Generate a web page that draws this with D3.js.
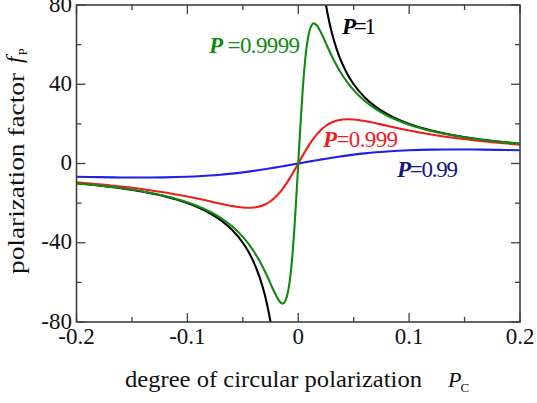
<!DOCTYPE html>
<html><head><meta charset="utf-8">
<script src="https://cdn.jsdelivr.net/npm/d3@7"></script>
<style>
html,body{margin:0;padding:0;background:#fff;overflow:hidden;}
svg text{font-family:"Liberation Serif","DejaVu Serif","Times New Roman",Times,serif;}
</style></head>
<body><svg id="c" width="537" height="403" font-family="Liberation Serif, DejaVu Serif, serif"></svg>
<script>
// ---- data ----
const pc = [-0.2,-0.18,-0.16,-0.14,-0.12,-0.1,-0.09,-0.08,-0.07,-0.06,-0.05,-0.045,-0.04,-0.035,-0.03,-0.025,-0.02,-0.017,-0.014,-0.012,-0.01,-0.008,-0.006,-0.004,-0.002,0,
  0.002,0.004,0.006,0.008,0.01,0.012,0.014,0.017,0.02,0.025,0.03,0.035,0.04,0.045,0.05,0.06,0.07,0.08,0.09,0.1,0.12,0.14,0.16,0.18,0.2];
const fP9999 = [-9.95,-11.04,-12.40,-14.14,-16.44,-19.61,-21.69,-24.24,-27.45,-31.58,-37.04,-40.45,-44.44,-49.12,-54.55,-60.61,-66.67,-69.53,-70.71,-69.77,-66.67,-60.61,-50.85,-37.04,-19.61,0,
  19.61,37.04,50.85,60.61,66.67,69.77,70.71,69.53,66.67,60.61,54.55,49.12,44.44,40.45,37.04,31.58,27.45,24.24,21.69,19.61,16.44,14.14,12.40,11.04,9.95];
const fP999 = [-9.52,-10.47,-11.59,-12.96,-14.63,-16.67,-17.82,-19.05,-20.29,-21.43,-22.22,-22.36,-22.22,-21.71,-20.69,-19.05,-16.67,-14.85,-12.75,-11.19,-9.52,-7.75,-5.89,-3.97,-2.00,0,
  2.00,3.97,5.89,7.75,9.52,11.19,12.75,14.85,16.67,19.05,20.69,21.71,22.22,22.36,22.22,21.43,20.29,19.05,17.82,16.67,14.63,12.96,11.59,10.47,9.52];
const fP99 = [-6.68,-6.88,-7.03,-7.09,-7.00,-6.69,-6.43,-6.08,-5.65,-5.11,-4.46,-4.10,-3.72,-3.31,-2.88,-2.44,-1.97,-1.68,-1.39,-1.20,-1.00,-0.80,-0.60,-0.40,-0.20,0,
  0.20,0.40,0.60,0.80,1.00,1.20,1.39,1.68,1.97,2.44,2.88,3.31,3.72,4.10,4.46,5.11,5.65,6.08,6.43,6.69,7.00,7.09,7.03,6.88,6.68];
const pcP1neg = [-0.2,-0.18,-0.16,-0.14,-0.12,-0.1,-0.09,-0.08,-0.07,-0.06,-0.05,-0.045,-0.04,-0.035,-0.03,-0.027,-0.025,-0.022];
const fP1neg  = [-10,-11.11,-12.5,-14.29,-16.67,-20,-22.22,-25,-28.57,-33.33,-40,-44.44,-50,-57.14,-66.67,-74.07,-80,-90.91];
const pcP1pos = [0.022,0.025,0.027,0.03,0.035,0.04,0.045,0.05,0.06,0.07,0.08,0.09,0.1,0.12,0.14,0.16,0.18,0.2];
const fP1pos  = [90.91,80,74.07,66.67,57.14,50,44.44,40,33.33,28.57,25,22.22,20,16.67,14.29,12.5,11.11,10];
const xTicks = [-0.2,-0.1,0,0.1,0.2];
const xTickLabels = ["-0.2","-0.1","0","0.1","0.2"];
const xMinor = [-0.15,-0.05,0.05,0.15];
const yTicks = [-80,-40,0,40,80];
const yTickLabels = ["-80","-40","0","40","80"];
const yMinor = [-60,-20,20,60];

// ---- layout ----
const FONT = "Liberation Serif, DejaVu Serif, Times New Roman, serif";
const L=76.5, R=520, T=5, B=322;
const svg = d3.select("#c");
const x = d3.scaleLinear().domain([-0.2,0.2]).range([L,R]);
const y = d3.scaleLinear().domain([-80,80]).range([B,T]);
const axisCol = "#404040";

svg.append("clipPath").attr("id","clip").append("rect")
  .attr("x",L).attr("y",T).attr("width",R-L).attr("height",B-T);

// ticks (inside, on all four sides)
const tk = svg.append("g").attr("stroke",axisCol).attr("stroke-width",1.3);
const MJ=9, MN=5;
xTicks.concat(xMinor).forEach(v=>{
  const len = xTicks.includes(v)?MJ:MN;
  tk.append("line").attr("x1",x(v)).attr("x2",x(v)).attr("y1",B).attr("y2",B-len);
  tk.append("line").attr("x1",x(v)).attr("x2",x(v)).attr("y1",T).attr("y2",T+len);
});
yTicks.concat(yMinor).forEach(v=>{
  const len = yTicks.includes(v)?MJ:MN;
  tk.append("line").attr("y1",y(v)).attr("y2",y(v)).attr("x1",L).attr("x2",L+len);
  tk.append("line").attr("y1",y(v)).attr("y2",y(v)).attr("x1",R).attr("x2",R-len);
});

// curves
const line = d3.line().x(d=>x(d[0])).y(d=>y(d[1])).curve(d3.curveMonotoneX);
const g = svg.append("g").attr("clip-path","url(#clip)").attr("fill","none").attr("stroke-width",2.1);
g.append("path").attr("d",line(d3.zip(pcP1neg,fP1neg))).attr("stroke","#000");
g.append("path").attr("d",line(d3.zip(pcP1pos,fP1pos))).attr("stroke","#000");
g.append("path").attr("d",line(d3.zip(pc,fP99))).attr("stroke","#1f1fe8");
g.append("path").attr("d",line(d3.zip(pc,fP999))).attr("stroke","#f01c1c");
g.append("path").attr("d",line(d3.zip(pc,fP9999))).attr("stroke","#128a12");

// frame
svg.append("rect").attr("x",L).attr("y",T).attr("width",R-L).attr("height",B-T)
  .attr("fill","none").attr("stroke",axisCol).attr("stroke-width",1.6);

function txt(){ return svg.append("text").attr("font-family",FONT).attr("fill","#111"); }

// tick labels
xTicks.forEach((v,i)=>{
  txt().attr("x",x(v)).attr("y",344).attr("text-anchor","middle")
    .attr("font-size",23).text(xTickLabels[i]);
});
yTicks.forEach((v,i)=>{
  txt().attr("x",72).attr("y",y(v)+6.5).attr("text-anchor","end")
    .attr("font-size",23).text(yTickLabels[i]);
});

// x title
txt().attr("x",125).attr("y",387).attr("font-size",24)
  .attr("textLength",297).attr("lengthAdjust","spacingAndGlyphs")
  .text("degree of circular polarization");
const pcT = txt().attr("x",448).attr("y",387);
pcT.append("tspan").attr("font-size",22).attr("font-style","italic").text("P");
pcT.append("tspan").attr("font-size",13).attr("dy",5).attr("dx",-1).text("C");

// y title
txt().attr("transform","translate(24,274) rotate(-90)").attr("font-size",24)
  .attr("textLength",201).attr("lengthAdjust","spacingAndGlyphs")
  .text("polarization factor");
const fT = txt().attr("transform","translate(22,63) rotate(-90)");
fT.append("tspan").attr("font-size",23).attr("font-style","italic").text("f");
fT.append("tspan").attr("font-size",13).attr("dy",5).attr("dx",1).text("P");

// curve labels
function lab(xp, yp, col, num, len, sp){
  const t = txt().attr("x",xp).attr("y",yp).attr("font-size",23).attr("fill",col)
    .attr("textLength",len).attr("lengthAdjust","spacing");
  t.append("tspan").attr("font-weight","bold").attr("font-style","italic").text("P");
  t.append("tspan").text((sp?" ":"")+"="+num);
}
lab(342,34,"#000","1",34,false);
lab(209,53,"#128a12","0.9999",91,true);
lab(323,147,"#f01c1c","0.999",75,false);
lab(397,177,"#15157f","0.99",61,false);
</script>
</body></html>
